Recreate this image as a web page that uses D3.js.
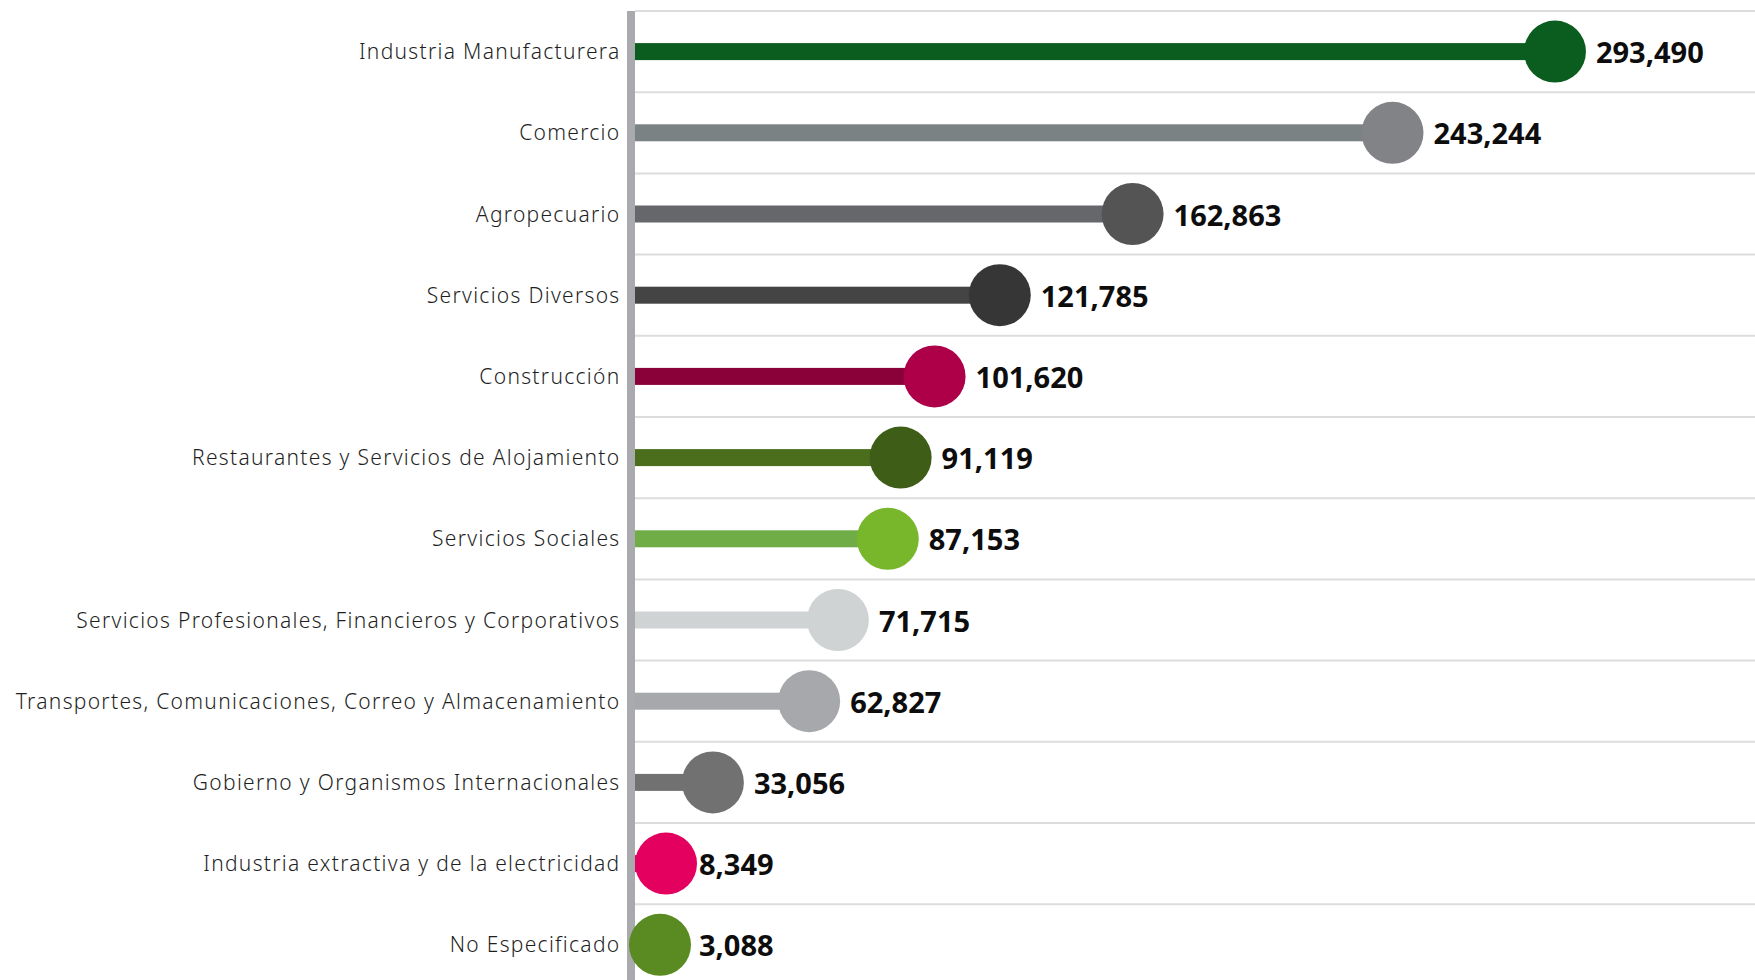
<!DOCTYPE html>
<html>
<head>
<meta charset="utf-8">
<script src="https://cdn.jsdelivr.net/npm/d3@7"></script>
<style>
    body { margin: 0; background: #ffffff; overflow: hidden; }
    svg { display: block; }
</style>
</head>
<body>
<svg width="1755" height="980"></svg>
<script>
// sectores, ordenados de mayor a menor
const categories = [
    'Industria Manufacturera',
    'Comercio',
    'Agropecuario',
    'Servicios Diversos',
    'Construcción',
    'Restaurantes y Servicios de Alojamiento',
    'Servicios Sociales',
    'Servicios Profesionales, Financieros y Corporativos',
    'Transportes, Comunicaciones, Correo y Almacenamiento',
    'Gobierno y Organismos Internacionales',
    'Industria extractiva y de la electricidad',
    'No Especificado'
];
const values = [293490, 243244, 162863, 121785, 101620, 91119, 87153, 71715, 62827, 33056, 8349, 3088];
const barColors = ['#0a5c1f', '#7a8284', '#66676b', '#444444', '#8a0038', '#4a6e1c', '#70ad47', '#d0d3d4', '#a7a8ab', '#717171', '#e4005f', '#598b22'];
const dotColors = ['#0a5c1f', '#818386', '#545454', '#363636', '#ad0049', '#3e5e18', '#78b62b', '#d0d3d4', '#a7a8ab', '#717171', '#e4005f', '#598b22'];

const canvas = d3.select('svg');
const width = 1755;
const axisLeft = 627;
const axisRight = 635;
const topY = 11;
const rowH = 81.2;
const r = 31;
const barH = 17;

const y = d3.scaleBand().
    domain(categories).
    range([topY, topY + rowH * categories.length]);

const x = d3.scaleLinear().
    domain([0, 300000]).
    range([606, 1576]);

const fmt = d3.format(',');

// lineas de separacion
canvas.append('g').selectAll('line').
    data(categories).
    join('line').
    attr('x1', axisRight).
    attr('x2', width).
    attr('y1', d => y(d)).
    attr('y2', d => y(d)).
    attr('stroke', '#dcdcdc').
    attr('stroke-width', 2);

// eje vertical
canvas.append('rect').
    attr('x', axisLeft).
    attr('y', topY).
    attr('width', axisRight - axisLeft).
    attr('height', 980 - topY).
    attr('fill', '#a9aaad');

const rows = canvas.append('g').selectAll('g').
    data(categories).
    join('g').
    attr('transform', d => 'translate(0,' + (y(d) + y.bandwidth() / 2) + ')');

const cxOf = i => Math.max(x(values[i]), axisRight + r);

rows.append('rect').
    attr('x', axisRight).
    attr('y', -barH / 2).
    attr('width', (d, i) => Math.max(0, cxOf(i) - axisRight)).
    attr('height', barH).
    attr('fill', (d, i) => barColors[i]);

rows.append('circle').
    attr('cx', (d, i) => values[i] < 5000 ? x(values[i]) + 44 : cxOf(i)).
    attr('cy', 0).
    attr('r', r).
    attr('fill', (d, i) => dotColors[i]);

rows.append('text').
    attr('x', 620.5).
    attr('dy', '0.36em').
    attr('text-anchor', 'end').
    style('font-family', '"Noto Sans", sans-serif').
    style('font-weight', 300).
    style('font-size', '21px').
    style('letter-spacing', '1.3px').
    style('fill', '#1f1f1f').
    text(d => d);

rows.append('text').
    attr('x', (d, i) => Math.max(x(values[i]) + 41, axisRight + 2 * r + 2)).
    attr('dy', '0.4em').
    style('font-family', '"Noto Sans", sans-serif').
    style('font-weight', 700).
    style('font-size', '29px').
    style('fill', '#0d0d0d').
    text((d, i) => fmt(values[i]));
</script>
</body>
</html>
